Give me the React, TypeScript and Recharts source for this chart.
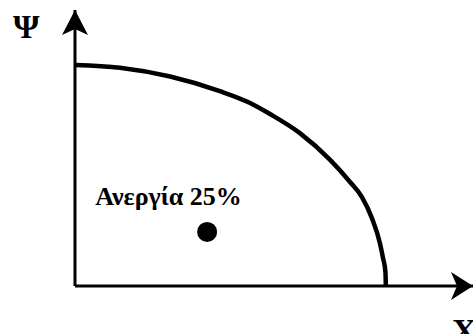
import React from 'react';
import { ComposedChart, Line, XAxis, YAxis, ReferenceDot, ReferenceLine } from 'recharts';

// frontier points (x units, y units)
const frontierX = [0, 11.3, 23.9, 36.4, 44.0, 49.0, 56.5, 64.1, 69.1, 72.1, 74.6, 76.6, 77.4, 78.0, 78.1];
const frontierY = [80.1, 79.1, 75.9, 70.6, 66.3, 62.3, 55.4, 45.7, 37.7, 32.2, 24.6, 15.6, 10.1, 5.1, 0];

const pointX = [33.2];
const pointY = [19.6];
const pointLabels = ['Ανεργία 25%'];

const axisNames = { x: 'X', y: 'Ψ' };

const data = frontierX.map((x, i) => ({ x, y: frontierY[i] }));

const FONT = "'Liberation Serif', 'Times New Roman', 'DejaVu Serif', serif";
const textStyle = { fontFamily: FONT, fontWeight: 700 };

const ArrowRight = ({ cx, cy }: any) => (
  <g>
    <path d={`M${cx},${cy} L${cx - 22},${cy - 14} L${cx - 16},${cy} L${cx - 22},${cy + 14} Z`} fill="#000" />
    <text x={cx - 21} y={cy + 56} style={{ ...textStyle, fontSize: 34 }} fill="#000">{axisNames.x}</text>
  </g>
);

const ArrowUp = ({ cx, cy }: any) => (
  <g>
    <path d={`M${cx},${cy} L${cx - 13},${cy + 25} L${cx},${cy + 19} L${cx + 13},${cy + 25} Z`} fill="#000" />
    <text x={cx - 62} y={cy + 28} style={{ ...textStyle, fontSize: 34 }} fill="#000">{axisNames.y}</text>
  </g>
);

const PointShape = ({ cx, cy }: any) => (
  <g>
    <circle cx={cx} cy={cy} r={10} fill="#000" />
    <text x={cx - 112} y={cy - 27} style={{ ...textStyle, fontSize: 26 }} fill="#000">{pointLabels[0]}</text>
  </g>
);

const App = () => {
  return (
    <div style={{ position: 'absolute', left: 0, top: 0, width: 473, height: 334, background: '#fff' }}>
      <ComposedChart width={473} height={334} data={data} margin={{ top: 10, right: 0, bottom: 48, left: 75 }}>
        <XAxis type="number" dataKey="x" domain={[0, 100]} hide allowDataOverflow />
        <YAxis type="number" dataKey="y" domain={[0, 100]} hide allowDataOverflow />
        <ReferenceLine x={0} stroke="#000" strokeWidth={3} ifOverflow="visible" />
        <ReferenceLine y={0} stroke="#000" strokeWidth={3} ifOverflow="visible" />
        <Line type="monotoneX" dataKey="y" stroke="#000" strokeWidth={4.5} dot={false} isAnimationActive={false} />
        <ReferenceDot x={100} y={0} r={0} shape={ArrowRight} ifOverflow="visible" />
        <ReferenceDot x={0} y={100} r={0} shape={ArrowUp} ifOverflow="visible" />
        <ReferenceDot x={pointX[0]} y={pointY[0]} r={10} shape={PointShape} ifOverflow="visible" />
      </ComposedChart>
    </div>
  );
};

export default App;
